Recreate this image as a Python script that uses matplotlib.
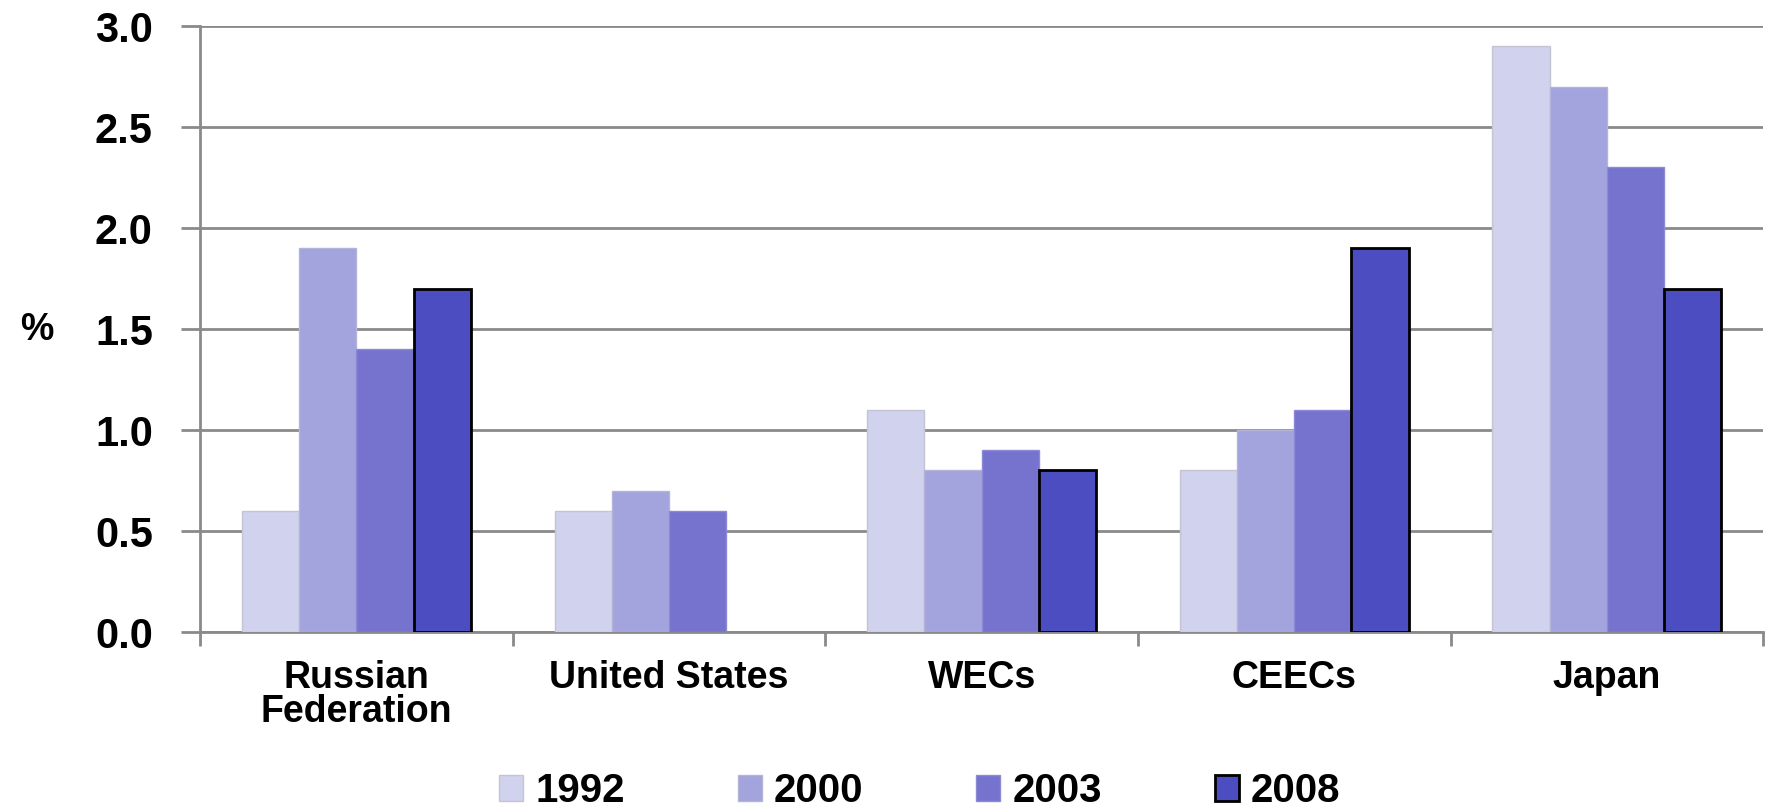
import matplotlib.pyplot as plt
import numpy as np
from matplotlib.ticker import MultipleLocator, FixedLocator

categories = ["Russian\nFederation", "United States", "WECs", "CEECs", "Japan"]
years = ["1992", "2000", "2003", "2008"]
v1992 = [0.6, 0.6, 1.1, 0.8, 2.9]
v2000 = [1.9, 0.7, 0.8, 1.0, 2.7]
v2003 = [1.4, 0.6, 0.9, 1.1, 2.3]
v2008 = [1.7, np.nan, 0.8, 1.9, 1.7]   # no value for United States

colors = ["#d0d2ee", "#a3a3de", "#7673cf", "#4c4dc0"]
edges = ["#c4c4d4", "#b4b4d8", "#8c8ad4", "black"]

plt.rcParams['font.family'] = ['Liberation Sans', 'DejaVu Sans']

fig = plt.figure(figsize=(17.72, 8.08), dpi=100)
ax = fig.add_axes([0.1129, 0.2178, 0.995 - 0.1129, 0.9678 - 0.2178])

x = np.arange(len(categories))
w = 0.183
series = [v1992, v2000, v2003, v2008]
handles = []
for i, vals in enumerate(series):
    b = ax.bar(x + (i - 1.5) * w, vals, w, color=colors[i], edgecolor=edges[i],
               linewidth=2 if i == 3 else 1, label=years[i], zorder=3)
    handles.append(b)

ax.set_xlim(-0.5, 4.5)
ax.set_ylim(0, 3.0)
ax.yaxis.set_major_locator(MultipleLocator(0.5))
ax.yaxis.set_major_formatter(plt.FuncFormatter(lambda v, p: f"{v:.1f}"))
ax.grid(axis='y', color='#8a8a8a', linewidth=2, zorder=0)
ax.set_axisbelow(True)

for s in ['top', 'right']:
    ax.spines[s].set_visible(False)
for s in ['left', 'bottom']:
    ax.spines[s].set_color('#8a8a8a')
    ax.spines[s].set_linewidth(2)

ax.set_xticks(x)
ax.set_xticklabels(categories, fontsize=27, fontweight='bold', linespacing=0.95)
ax.tick_params(axis='x', which='major', length=0, pad=20)
ax.xaxis.set_minor_locator(FixedLocator([-0.5, 0.5, 1.5, 2.5, 3.5, 4.5]))
ax.tick_params(axis='x', which='minor', length=10, width=2, color='#8a8a8a')
ax.tick_params(axis='y', length=14, width=2, color='#8a8a8a', labelsize=30, pad=20)
for t in ax.get_yticklabels():
    t.set_fontweight('bold')

fig.text(0.021, 0.592, "%", fontsize=27, fontweight='bold', va='center', ha='center')

leg = fig.legend(handles=handles, labels=years, loc='center', bbox_to_anchor=(0.519, 0.021),
                 ncol=4, frameon=False, handlelength=0.6, handleheight=0.6,
                 columnspacing=2.8, handletextpad=0.3,
                 prop={'family': ['Liberation Sans Narrow', 'Liberation Sans'], 'weight': 'bold', 'size': 29})

fig.savefig("out.png", dpi=100)
